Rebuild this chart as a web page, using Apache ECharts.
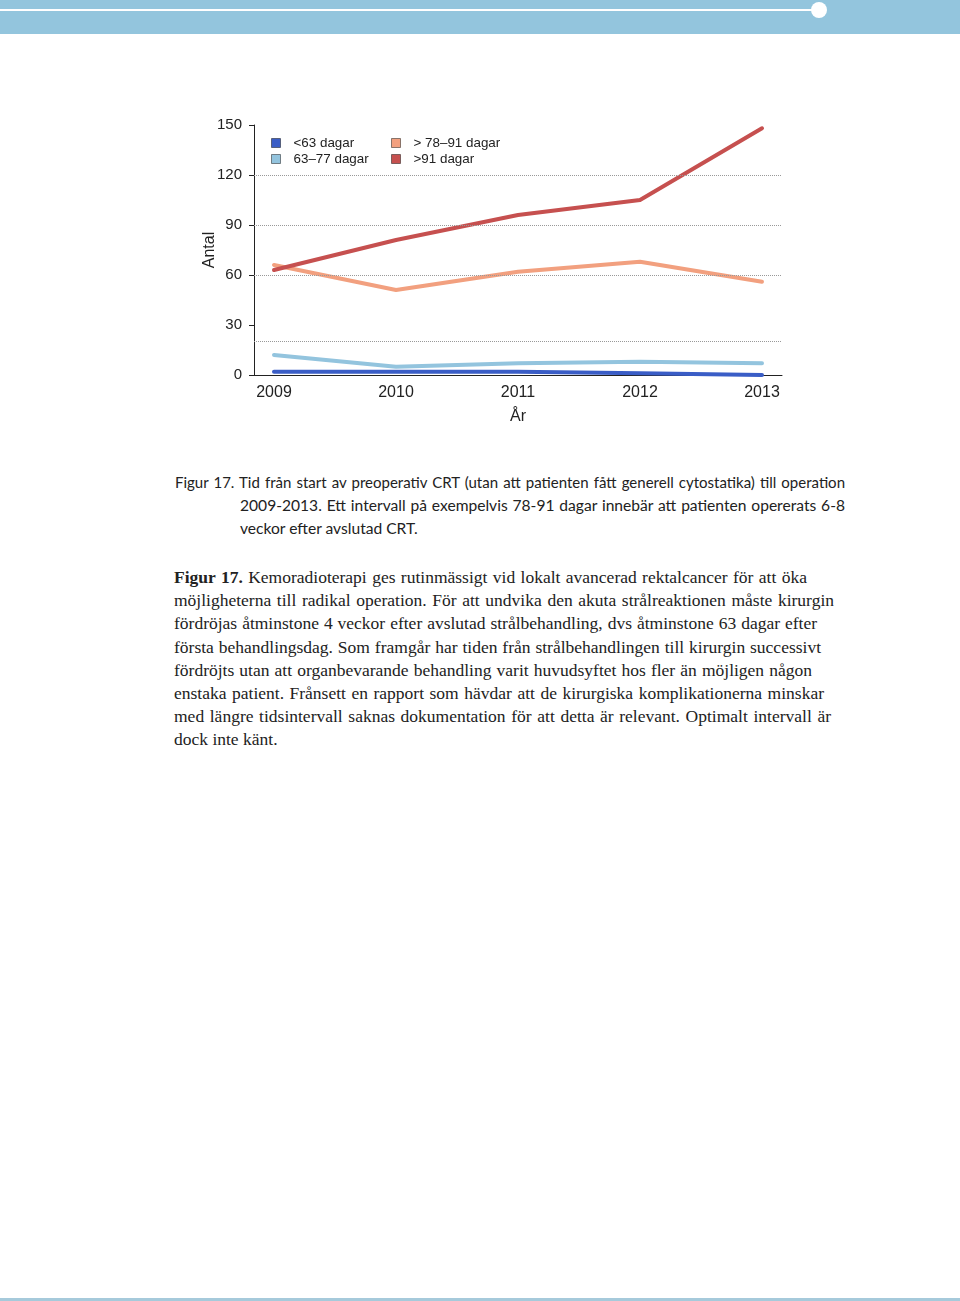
<!DOCTYPE html>
<html><head><meta charset="utf-8">
<script src="https://cdn.jsdelivr.net/npm/echarts@6/dist/echarts.min.js"></script>
<style>
html,body{margin:0;padding:0;background:#fff;width:960px;height:1301px;overflow:hidden;position:relative}
#hdr{position:absolute;left:0;top:0;width:960px;height:34px;background:#93c5dd}
#hline{position:absolute;left:0;top:9px;width:812px;height:2px;background:#fff}
#hdot{position:absolute;left:811px;top:2px;width:16px;height:16px;border-radius:50%;background:#fff}
#foot{position:absolute;left:0;top:1298px;width:960px;height:3px;background:#a6cadb}
#chart{position:absolute;left:0;top:0;width:960px;height:440px}
#cap{position:absolute;left:175px;top:471px;width:670px;font-family:Lato,sans-serif;font-size:15.6px;line-height:23px;color:#222}
#cap div{white-space:nowrap;height:23px}
.j{text-align:justify;text-align-last:justify;white-space:normal!important}
#para{position:absolute;left:174px;top:566px;font-family:"Liberation Serif",serif;font-size:17.5px;line-height:23.2px;color:#222}
#para div{text-align:justify;text-align-last:justify}
</style></head>
<body>
<div id="hdr"><div id="hline"></div><div id="hdot"></div></div>
<div id="chart"></div>
<div id="cap">
<div class="j" style="font-size:15px">Figur 17. Tid från start av preoperativ CRT (utan att patienten fått generell cytostatika) till operation</div>
<div class="j" style="margin-left:65px">2009-2013. Ett intervall på exempelvis 78-91 dagar innebär att patienten opererats 6-8</div>
<div style="margin-left:65px">veckor efter avslutad CRT.</div>
</div>
<div id="para">
<div style="width:633px"><b>Figur 17.</b> Kemoradioterapi ges rutinmässigt vid lokalt avancerad rektalcancer för att öka</div>
<div style="width:660px">möjligheterna till radikal operation. För att undvika den akuta strålreaktionen måste kirurgin</div>
<div style="width:643px">fördröjas åtminstone 4 veckor efter avslutad strålbehandling, dvs åtminstone 63 dagar efter</div>
<div style="width:647px">första behandlingsdag. Som framgår har tiden från strålbehandlingen till kirurgin successivt</div>
<div style="width:638px">fördröjts utan att organbevarande behandling varit huvudsyftet hos fler än möjligen någon</div>
<div style="width:650px">enstaka patient. Frånsett en rapport som hävdar att de kirurgiska komplikationerna minskar</div>
<div style="width:657px">med längre tidsintervall saknas dokumentation för att detta är relevant. Optimalt intervall är</div>
<div style="text-align:left;text-align-last:left">dock inte känt.</div>
</div>
<div id="foot"></div>
<script>
const years = [2009, 2010, 2011, 2012, 2013];
const seriesNames = ['<63 dagar', '63–77 dagar', '> 78–91 dagar', '>91 dagar'];
const under63 = [2, 2, 2, 1, 0];
const d63to77 = [12, 5, 7, 8, 7];
const d78to91 = [66, 51, 62, 68, 56];
const over91 = [63, 81, 96, 105, 148];
const yTicks = [0, 30, 60, 90, 120, 150];
const gridValues = [20, 60, 90, 120];
const colors = ['#3a5dc6', '#93c4de', '#f2a07f', '#c6504f'];
const allData = [under63, d63to77, d78to91, over91];

const chart = echarts.init(document.getElementById('chart'), null, {renderer: 'canvas'});
const pad = 20 / 122;
const series = allData.map((vals, i) => ({
  name: seriesNames[i],
  type: 'line',
  data: years.map((y, k) => [y, vals[k]]),
  symbol: 'none',
  lineStyle: {width: 4, color: colors[i], cap: 'round', join: 'round'},
  itemStyle: {color: colors[i]},
  animation: false,
  z: 3
}));
series[0].markLine = {
  silent: true, symbol: 'none', animation: false,
  label: {show: false},
  lineStyle: {type: 'dotted', color: '#999', width: 1},
  data: gridValues.map(v => ({yAxis: v}))
};

const legendCommon = {
  orient: 'vertical', icon: 'rect', itemWidth: 9, itemHeight: 9, itemGap: 0,
  top: 135, padding: 0,
  itemStyle: {borderColor: 'rgba(0,0,0,0.45)', borderWidth: 1},
  textStyle: {fontFamily: 'Liberation Sans, Arial, sans-serif', fontSize: 13.4, color: '#222', lineHeight: 16, padding: [0, 0, 0, 8]},
  selectedMode: false
};
chart.setOption({
  animation: false,
  grid: {left: 254, top: 125, width: 528, height: 250, containLabel: false},
  legend: [
    Object.assign({}, legendCommon, {left: 271, data: [seriesNames[0], seriesNames[1]]}),
    Object.assign({}, legendCommon, {left: 391, data: [seriesNames[2], seriesNames[3]]})
  ],
  xAxis: {
    type: 'value', min: years[0] - pad, max: years[years.length - 1] + pad,
    name: 'År', nameLocation: 'middle', nameGap: 34,
    nameTextStyle: {fontFamily: 'Liberation Sans, Arial, sans-serif', fontSize: 16, color: '#222'},
    axisLine: {show: true, lineStyle: {color: '#222', width: 1}},
    axisTick: {show: false},
    splitLine: {show: false},
    axisLabel: {customValues: years, formatter: v => String(v), margin: 10,
      fontFamily: 'Liberation Sans, Arial, sans-serif', fontSize: 16, color: '#222'}
  },
  yAxis: {
    type: 'value', min: 0, max: 150, interval: 30,
    name: 'Antal', nameLocation: 'middle', nameGap: 36, nameRotate: 90, nameMoveOverlap: false,
    nameTextStyle: {fontFamily: 'Liberation Sans, Arial, sans-serif', fontSize: 16, color: '#222'},
    axisLine: {show: true, lineStyle: {color: '#222', width: 1}},
    axisTick: {show: true, length: 5, lineStyle: {color: '#222'}},
    splitLine: {show: false},
    axisLabel: {customValues: yTicks, margin: 12, fontFamily: 'Liberation Sans, Arial, sans-serif', fontSize: 15, color: '#222'}
  },
  series: series
});
</script>
</body></html>
